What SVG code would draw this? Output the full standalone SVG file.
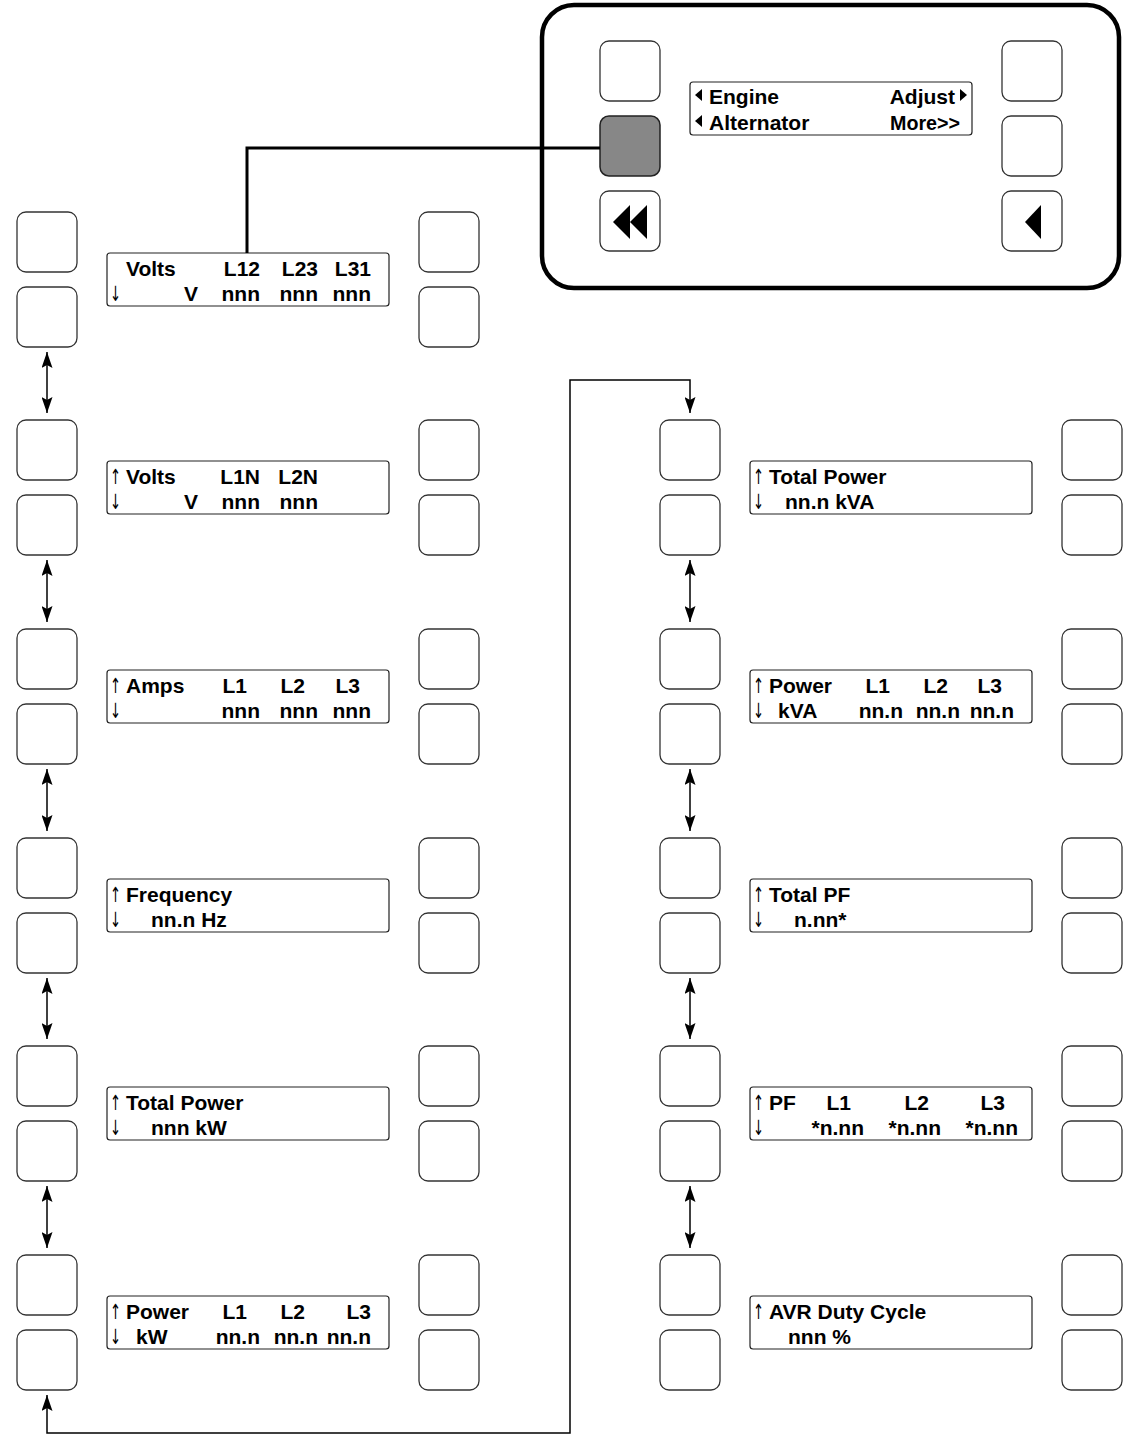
<svg xmlns="http://www.w3.org/2000/svg" width="1127" height="1437" viewBox="0 0 1127 1437">
<style>
.btn{fill:#fff;stroke:#333;stroke-width:1.3}
.disp{fill:#fff;stroke:#222;stroke-width:1.2}
.t{font-family:"Liberation Sans",Arial,sans-serif;font-weight:bold;font-size:21px;fill:#000}
.e{text-anchor:end}
.ar{font-family:"DejaVu Sans","Liberation Sans",sans-serif;font-size:21px;fill:#000}
.ln{fill:none;stroke:#000;stroke-width:1.5}
.tri{fill:#000}
</style>
<defs>
<marker id="ah" viewBox="0 0 16 11" refX="16" refY="5.5" markerWidth="16" markerHeight="11" markerUnits="userSpaceOnUse" orient="auto-start-reverse">
<path d="M0,0 L16,5.5 L0,11 L3,5.5 z" fill="#000"/>
</marker>
<g id="btns">
<rect class="btn" x="17" y="0" width="60" height="60" rx="9"/>
<rect class="btn" x="17" y="75" width="60" height="60" rx="9"/>
<rect class="btn" x="419" y="0" width="60" height="60" rx="9"/>
<rect class="btn" x="419" y="75" width="60" height="60" rx="9"/>
<rect class="disp" x="107" y="41" width="282" height="53" rx="3"/>
</g>
</defs>

<g id="panel">
<rect x="542" y="5" width="577" height="283" rx="32" fill="#fff" stroke="#000" stroke-width="4.5"/>
<rect class="btn" x="600" y="41" width="60" height="60" rx="9"/>
<rect x="600" y="116" width="60" height="60" rx="9" fill="#878787" stroke="#222" stroke-width="1.5"/>
<rect class="btn" x="600" y="191" width="60" height="60" rx="9"/>
<polygon class="tri" points="613,222 630,205 630,239"/>
<polygon class="tri" points="630,222 647,205 647,239"/>
<rect class="btn" x="1002" y="41" width="60" height="60" rx="9"/>
<rect class="btn" x="1002" y="116" width="60" height="60" rx="9"/>
<rect class="btn" x="1002" y="191" width="60" height="60" rx="9"/>
<polygon class="tri" points="1025,222 1041,205 1041,239"/>
<rect class="disp" x="690" y="82" width="282" height="53" rx="3"/>
<polygon class="tri" points="695,95 702,89 702,101"/>
<polygon class="tri" points="695,121 702,115 702,127"/>
<polygon class="tri" points="960,89 967,95 960,101"/>
<text class="t" x="709" y="104">Engine</text>
<text class="t" x="709" y="130">Alternator</text>
<text class="t e" x="955" y="104">Adjust</text>
<text class="t" x="890" y="130" textLength="70" lengthAdjust="spacingAndGlyphs">More&gt;&gt;</text>
</g>

<g id="L1" transform="translate(0,212)">
<use href="#btns"/>
<text class="t" x="126" y="63.5">Volts</text>
<text class="t e" x="260" y="63.5">L12</text>
<text class="t e" x="318" y="63.5">L23</text>
<text class="t e" x="371" y="63.5">L31</text>
<text class="ar" x="110" y="89" textLength="11" lengthAdjust="spacingAndGlyphs">↓</text>
<text class="t e" x="198" y="89">V</text>
<text class="t e" x="260" y="89">nnn</text>
<text class="t e" x="318" y="89">nnn</text>
<text class="t e" x="371" y="89">nnn</text>
</g>

<g id="L2" transform="translate(0,420)">
<use href="#btns"/>
<text class="ar" x="110" y="63.5" textLength="11" lengthAdjust="spacingAndGlyphs">↑</text>
<text class="t" x="126" y="63.5">Volts</text>
<text class="t e" x="260" y="63.5">L1N</text>
<text class="t e" x="318" y="63.5">L2N</text>
<text class="ar" x="110" y="89" textLength="11" lengthAdjust="spacingAndGlyphs">↓</text>
<text class="t e" x="198" y="89">V</text>
<text class="t e" x="260" y="89">nnn</text>
<text class="t e" x="318" y="89">nnn</text>
</g>

<g id="L3" transform="translate(0,629)">
<use href="#btns"/>
<text class="ar" x="110" y="63.5" textLength="11" lengthAdjust="spacingAndGlyphs">↑</text>
<text class="t" x="126" y="63.5">Amps</text>
<text class="t e" x="247" y="63.5">L1</text>
<text class="t e" x="305" y="63.5">L2</text>
<text class="t e" x="360" y="63.5">L3</text>
<text class="ar" x="110" y="89" textLength="11" lengthAdjust="spacingAndGlyphs">↓</text>
<text class="t e" x="260" y="89">nnn</text>
<text class="t e" x="318" y="89">nnn</text>
<text class="t e" x="371" y="89">nnn</text>
</g>

<g id="L4" transform="translate(0,838)">
<use href="#btns"/>
<text class="ar" x="110" y="63.5" textLength="11" lengthAdjust="spacingAndGlyphs">↑</text>
<text class="t" x="126" y="63.5">Frequency</text>
<text class="ar" x="110" y="89" textLength="11" lengthAdjust="spacingAndGlyphs">↓</text>
<text class="t" x="151" y="89">nn.n Hz</text>
</g>

<g id="L5" transform="translate(0,1046)">
<use href="#btns"/>
<text class="ar" x="110" y="63.5" textLength="11" lengthAdjust="spacingAndGlyphs">↑</text>
<text class="t" x="126" y="63.5">Total Power</text>
<text class="ar" x="110" y="89" textLength="11" lengthAdjust="spacingAndGlyphs">↓</text>
<text class="t" x="151" y="89">nnn kW</text>
</g>

<g id="L6" transform="translate(0,1255)">
<use href="#btns"/>
<text class="ar" x="110" y="63.5" textLength="11" lengthAdjust="spacingAndGlyphs">↑</text>
<text class="t" x="126" y="63.5">Power</text>
<text class="t e" x="247" y="63.5">L1</text>
<text class="t e" x="305" y="63.5">L2</text>
<text class="t e" x="371" y="63.5">L3</text>
<text class="ar" x="110" y="89" textLength="11" lengthAdjust="spacingAndGlyphs">↓</text>
<text class="t" x="136" y="89">kW</text>
<text class="t e" x="260" y="89">nn.n</text>
<text class="t e" x="318" y="89">nn.n</text>
<text class="t e" x="371" y="89">nn.n</text>
</g>

<g id="R1" transform="translate(643,420)">
<use href="#btns"/>
<text class="ar" x="110" y="63.5" textLength="11" lengthAdjust="spacingAndGlyphs">↑</text>
<text class="t" x="126" y="63.5">Total Power</text>
<text class="ar" x="110" y="89" textLength="11" lengthAdjust="spacingAndGlyphs">↓</text>
<text class="t" x="142" y="89">nn.n kVA</text>
</g>

<g id="R2" transform="translate(643,629)">
<use href="#btns"/>
<text class="ar" x="110" y="63.5" textLength="11" lengthAdjust="spacingAndGlyphs">↑</text>
<text class="t" x="126" y="63.5">Power</text>
<text class="t e" x="247" y="63.5">L1</text>
<text class="t e" x="305" y="63.5">L2</text>
<text class="t e" x="359" y="63.5">L3</text>
<text class="ar" x="110" y="89" textLength="11" lengthAdjust="spacingAndGlyphs">↓</text>
<text class="t" x="135" y="89">kVA</text>
<text class="t e" x="260" y="89">nn.n</text>
<text class="t e" x="317" y="89">nn.n</text>
<text class="t e" x="371" y="89">nn.n</text>
</g>

<g id="R3" transform="translate(643,838)">
<use href="#btns"/>
<text class="ar" x="110" y="63.5" textLength="11" lengthAdjust="spacingAndGlyphs">↑</text>
<text class="t" x="126" y="63.5">Total PF</text>
<text class="ar" x="110" y="89" textLength="11" lengthAdjust="spacingAndGlyphs">↓</text>
<text class="t" x="151" y="89">n.nn*</text>
</g>

<g id="R4" transform="translate(643,1046)">
<use href="#btns"/>
<text class="ar" x="110" y="63.5" textLength="11" lengthAdjust="spacingAndGlyphs">↑</text>
<text class="t" x="126" y="63.5">PF</text>
<text class="t e" x="208" y="63.5">L1</text>
<text class="t e" x="286" y="63.5">L2</text>
<text class="t e" x="362" y="63.5">L3</text>
<text class="ar" x="110" y="89" textLength="11" lengthAdjust="spacingAndGlyphs">↓</text>
<text class="t e" x="221" y="89">*n.nn</text>
<text class="t e" x="298" y="89">*n.nn</text>
<text class="t e" x="375" y="89">*n.nn</text>
</g>

<g id="R5" transform="translate(643,1255)">
<use href="#btns"/>
<text class="ar" x="110" y="63.5" textLength="11" lengthAdjust="spacingAndGlyphs">↑</text>
<text class="t" x="126" y="63.5">AVR Duty Cycle</text>
<text class="t" x="145" y="89">nnn %</text>
</g>

<g id="connectors">
<path d="M600,148 H247 V253" fill="none" stroke="#000" stroke-width="3"/>
<line class="ln" x1="47" y1="352" x2="47" y2="413" marker-start="url(#ah)" marker-end="url(#ah)"/>
<line class="ln" x1="47" y1="560" x2="47" y2="622" marker-start="url(#ah)" marker-end="url(#ah)"/>
<line class="ln" x1="47" y1="769" x2="47" y2="831" marker-start="url(#ah)" marker-end="url(#ah)"/>
<line class="ln" x1="47" y1="978" x2="47" y2="1039" marker-start="url(#ah)" marker-end="url(#ah)"/>
<line class="ln" x1="47" y1="1186" x2="47" y2="1248" marker-start="url(#ah)" marker-end="url(#ah)"/>
<line class="ln" x1="690" y1="560" x2="690" y2="622" marker-start="url(#ah)" marker-end="url(#ah)"/>
<line class="ln" x1="690" y1="769" x2="690" y2="831" marker-start="url(#ah)" marker-end="url(#ah)"/>
<line class="ln" x1="690" y1="978" x2="690" y2="1039" marker-start="url(#ah)" marker-end="url(#ah)"/>
<line class="ln" x1="690" y1="1186" x2="690" y2="1248" marker-start="url(#ah)" marker-end="url(#ah)"/>
<path class="ln" d="M47,1395 V1433 H570 V380 H690 V413" marker-start="url(#ah)" marker-end="url(#ah)"/>
</g>
</svg>
